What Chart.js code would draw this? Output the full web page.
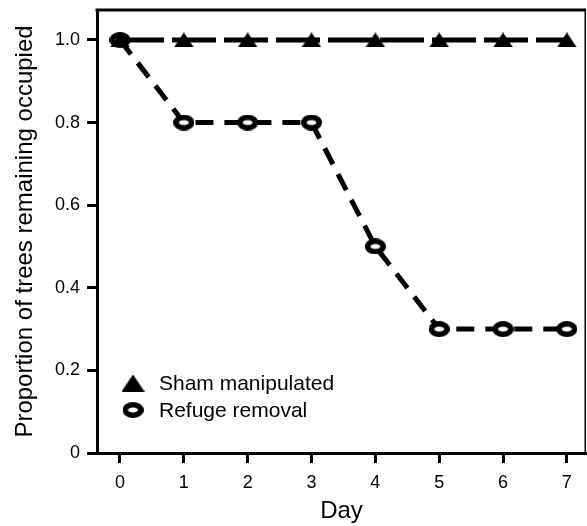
<!DOCTYPE html>
<html>
<head>
<meta charset="utf-8">
<script src="https://cdn.jsdelivr.net/npm/chart.js@4/dist/chart.umd.min.js"></script>
<style>
  html, body { margin: 0; padding: 0; background: #fff; }
  #wrap { width: 587px; height: 526px; }
</style>
</head>
<body>
<div id="wrap"><canvas id="chart"></canvas></div>
<script>
var days = [0, 1, 2, 3, 4, 5, 6, 7];
var shamValues = [1.0, 1.0, 1.0, 1.0, 1.0, 1.0, 1.0, 1.0];
var refugeValues = [1.0, 0.8, 0.8, 0.8, 0.5, 0.3, 0.3, 0.3];
var xTicks = [0, 1, 2, 3, 4, 5, 6, 7];
var yTicks = [0, 0.2, 0.4, 0.6, 0.8, 1.0];

var FONT = "'Liberation Sans', Arial, Helvetica, sans-serif";

// marker images
function triangleImg(w, h) {
    var c = document.createElement('canvas');
    c.width = w; c.height = h;
    var ctx = c.getContext('2d');
    ctx.fillStyle = '#000';
    ctx.beginPath();
    ctx.moveTo(w / 2, 0);
    ctx.lineTo(w, h);
    ctx.lineTo(0, h);
    ctx.closePath();
    ctx.fill();
    return c;
}
function ringImg(w, h, lw) {
    var c = document.createElement('canvas');
    c.width = w; c.height = h;
    var ctx = c.getContext('2d');
    ctx.beginPath();
    ctx.ellipse(w / 2, h / 2, w / 2 - lw / 2, h / 2 - lw / 2, 0, 0, Math.PI * 2);
    ctx.fillStyle = '#fff';
    ctx.fill();
    ctx.lineWidth = lw;
    ctx.strokeStyle = '#000';
    ctx.stroke();
    return c;
}

var triPlot = triangleImg(20, 15);
var ringPlot = ringImg(21, 16, 5.5);
var triLegend = triangleImg(23, 17);
var ringLegend = ringImg(21, 16, 5.5);

function toPoints(vals) {
    return days.map(function (d, i) { return { x: d, y: vals[i] }; });
}

var frame = {
    id: 'frame',
    afterDatasetsDraw: function (chart) {
        var a = chart.chartArea, ctx = chart.ctx;
        ctx.save();
        ctx.strokeStyle = '#000';
        ctx.lineWidth = 3;
        ctx.beginPath();
        ctx.moveTo(a.left - 1.5, a.top);
        ctx.lineTo(a.right, a.top);
        ctx.stroke();
        ctx.lineWidth = 1.5;
        ctx.beginPath();
        ctx.moveTo(a.right - 0.75, a.top);
        ctx.lineTo(a.right - 0.75, a.bottom);
        ctx.stroke();
        ctx.restore();
    }
};

var legendBox = {
    id: 'legendBox',
    afterDraw: function (chart) {
        var ctx = chart.ctx;
        var items = [
            { img: triLegend, label: chart.data.datasets[0].label, y: 383 },
            { img: ringLegend, label: chart.data.datasets[1].label, y: 410 }
        ];
        ctx.save();
        ctx.fillStyle = '#000';
        ctx.font = '21px ' + FONT;
        ctx.textBaseline = 'middle';
        items.forEach(function (it) {
            ctx.drawImage(it.img, 133 - it.img.width / 2, it.y - it.img.height / 2);
            ctx.fillText(it.label, 159, it.y + 1);
        });
        ctx.restore();
    }
};

new Chart(document.getElementById('chart'), {
    type: 'line',
    data: {
        datasets: [
            {
                label: 'Sham manipulated',
                data: toPoints(shamValues),
                borderColor: '#000',
                borderWidth: 5,
                borderDash: [44, 8],
                pointStyle: triPlot,
                pointRadius: 10,
                fill: false,
                order: 1
            },
            {
                label: 'Refuge removal',
                data: toPoints(refugeValues),
                borderColor: '#000',
                borderWidth: 5,
                borderDash: [18, 11],
                pointStyle: ringPlot,
                pointRadius: 10,
                fill: false,
                order: 2
            }
        ]
    },
    options: {
        responsive: true,
        maintainAspectRatio: false,
        animation: false,
        layout: { autoPadding: false, padding: { top: 10, right: 1, left: 0, bottom: 0 } },
        plugins: {
            legend: { display: false },
            tooltip: { enabled: false }
        },
        scales: {
            x: {
                type: 'linear',
                min: -0.36,
                max: 7.3,
                afterBuildTicks: function (scale) {
                    scale.ticks = xTicks.map(function (v) { return { value: v }; });
                },
                afterFit: function (scale) {
                    scale.height = 73;
                    scale.paddingLeft = 0;
                    scale.paddingRight = 0;
                },
                grid: {
                    drawOnChartArea: false,
                    drawTicks: true,
                    tickLength: 10,
                    tickWidth: 3,
                    tickColor: '#000',
                    lineWidth: 3
                },
                border: { display: true, color: '#000', width: 3 },
                ticks: {
                    color: '#000',
                    font: { family: FONT, size: 18 },
                    padding: 9,
                    maxRotation: 0
                },
                title: {
                    display: true,
                    text: 'Day',
                    color: '#000',
                    font: { family: FONT, size: 24 },
                    padding: { top: 0, bottom: 0 }
                }
            },
            y: {
                min: 0,
                max: 1.0725,
                afterBuildTicks: function (scale) {
                    scale.ticks = yTicks.map(function (v) { return { value: v }; });
                },
                afterFit: function (scale) {
                    scale.width = 97;
                    scale.paddingTop = 0;
                    scale.paddingBottom = 0;
                },
                grid: {
                    drawOnChartArea: false,
                    drawTicks: true,
                    tickLength: 10,
                    tickWidth: 3,
                    tickColor: '#000',
                    lineWidth: 3
                },
                border: { display: true, color: '#000', width: 3 },
                ticks: {
                    color: '#000',
                    font: { family: FONT, size: 18 },
                    padding: 7,
                    callback: function (v) { return v === 0 ? '0' : v.toFixed(1); }
                },
                title: {
                    display: true,
                    text: 'Proportion of trees remaining occupied',
                    color: '#000',
                    font: { family: FONT, size: 24 },
                    padding: { top: 11, bottom: 0 }
                }
            }
        }
    },
    plugins: [frame, legendBox]
});
</script>
</body>
</html>
